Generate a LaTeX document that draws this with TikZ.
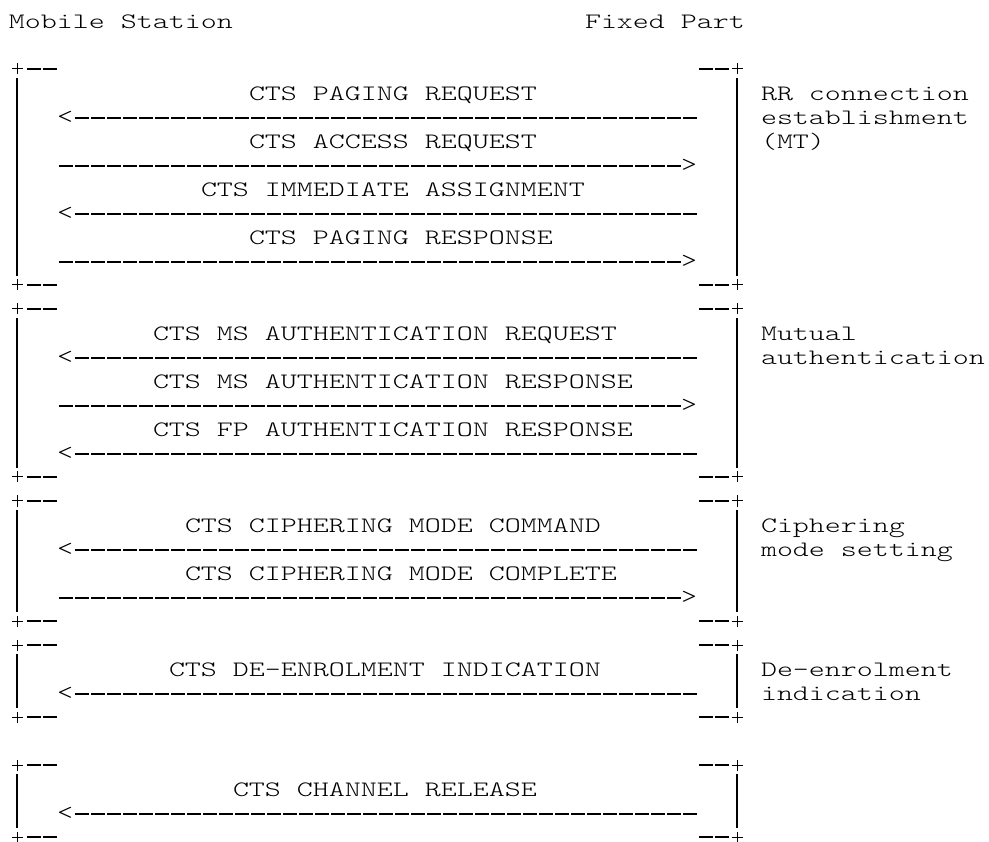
\documentclass[tikz,border=0pt]{standalone}
\usepackage{fontspec}
\usepackage{graphicx}
\newfontfamily\asc{lmmonolt10-regular.otf}
\newcommand\colx[1]{\the\numexpr17+16*(#1)\relax}
\newcommand\colL[1]{\the\numexpr9+16*(#1)\relax}
\newcommand\rowy[1]{\the\numexpr21+24*(#1)\relax}
\newcommand\T[1]{\scalebox{1.385}[1]{#1}}
\tikzset{
  txt/.style={inner sep=0pt, outer sep=0pt, anchor=base west, font=\asc\fontsize{22}{24}\selectfont},
  glyph/.style={inner sep=0pt, outer sep=0pt, anchor=base, font=\asc\fontsize{22}{24}\selectfont},
  vbar/.style={line width=1.2pt, black},
  corner/.style={line width=1pt, black},
  hdash/.style={line width=2.2pt, black, dash pattern=on 14.5pt off 1.5pt},
}
\newcommand\cross[1]{%
  \draw[corner] ([xshift=-5.5pt]#1) -- ([xshift=5.5pt]#1);
  \draw[corner] ([yshift=-5.5pt]#1) -- ([yshift=5.5pt]#1);
}
\newcommand\blk[3]{%
  \coordinate (#1tl) at (\colx{0},\rowy{#2});
  \coordinate (#1tr) at (\colx{45},\rowy{#2});
  \coordinate (#1bl) at (\colx{0},\rowy{#3});
  \coordinate (#1br) at (\colx{45},\rowy{#3});
  \cross{#1tl}\cross{#1tr}\cross{#1bl}\cross{#1br}
  \draw[vbar] ([yshift=-9pt]#1tl) -- ([yshift=9pt]#1bl);
  \draw[vbar] ([yshift=-9pt]#1tr) -- ([yshift=9pt]#1br);
  \draw[hdash] ([xshift=9.5pt]#1tl) -- ([xshift=40pt]#1tl);
  \draw[hdash] ([xshift=9.5pt]#1bl) -- ([xshift=40pt]#1bl);
  \draw[hdash] ([xshift=-38.5pt]#1tr) -- ([xshift=-8pt]#1tr);
  \draw[hdash] ([xshift=-38.5pt]#1br) -- ([xshift=-8pt]#1br);
}
\newcommand\larr[2]{%
  \node[glyph] (#1h) at (\colx{3},{\rowy{#2}+6.5}) {\T{<}};
  \coordinate (#1s) at (74.5,{\rowy{#2}+1});
  \coordinate (#1e) at (697,{\rowy{#2}+1});
  \draw[hdash] (#1s) -- (#1e);
}
\newcommand\rarr[2]{%
  \node[glyph] (#1h) at (\colx{42},{\rowy{#2}+6.5}) {\T{>}};
  \coordinate (#1s) at (58.5,{\rowy{#2}+1});
  \coordinate (#1e) at (681,{\rowy{#2}+1});
  \draw[hdash] (#1s) -- (#1e);
}
\newcommand\msg[4]{% name, col, row, text
  \node[txt] (#1) at (\colL{#2},{\rowy{#3}+7.5}) {\T{#4}};
}
\begin{document}
\begin{tikzpicture}[x=1pt,y=-1pt]
\fill[white] (0,0) rectangle (989,842);
\useasboundingbox (0,0) rectangle (989,842);

\msg{ms}{0}{0}{Mobile Station}
\msg{fp}{36}{0}{Fixed Part}

% RR connection establishment
\blk{A}{2}{11}
\msg{a3}{15}{3}{CTS PAGING REQUEST}
\larr{a4}{4}
\msg{a5}{15}{5}{CTS ACCESS REQUEST}
\rarr{a6}{6}
\msg{a7}{12}{7}{CTS IMMEDIATE ASSIGNMENT}
\larr{a8}{8}
\msg{a9}{15}{9}{CTS PAGING RESPONSE}
\rarr{a10}{10}
\msg{ra}{47}{3}{RR connection}
\msg{rb}{47}{4}{establishment}
\msg{rc}{47}{5}{(MT)}

% Mutual authentication
\blk{B}{12}{19}
\msg{b13}{9}{13}{CTS MS AUTHENTICATION REQUEST}
\larr{b14}{14}
\msg{b15}{9}{15}{CTS MS AUTHENTICATION RESPONSE}
\rarr{b16}{16}
\msg{b17}{9}{17}{CTS FP AUTHENTICATION RESPONSE}
\larr{b18}{18}
\msg{rd}{47}{13}{Mutual}
\msg{re}{47}{14}{authentication}

% Ciphering mode setting
\blk{C}{20}{25}
\msg{c21}{11}{21}{CTS CIPHERING MODE COMMAND}
\larr{c22}{22}
\msg{c23}{11}{23}{CTS CIPHERING MODE COMPLETE}
\rarr{c24}{24}
\msg{rf}{47}{21}{Ciphering}
\msg{rg}{47}{22}{mode setting}

% De-enrolment indication
\blk{D}{26}{29}
\msg{d27}{10}{27}{CTS DE-ENROLMENT INDICATION}
\larr{d28}{28}
\msg{rh}{47}{27}{De-enrolment}
\msg{ri}{47}{28}{indication}

% Channel release
\blk{E}{31}{34}
\msg{e32}{14}{32}{CTS CHANNEL RELEASE}
\larr{e33}{33}
\end{tikzpicture}
\end{document}
